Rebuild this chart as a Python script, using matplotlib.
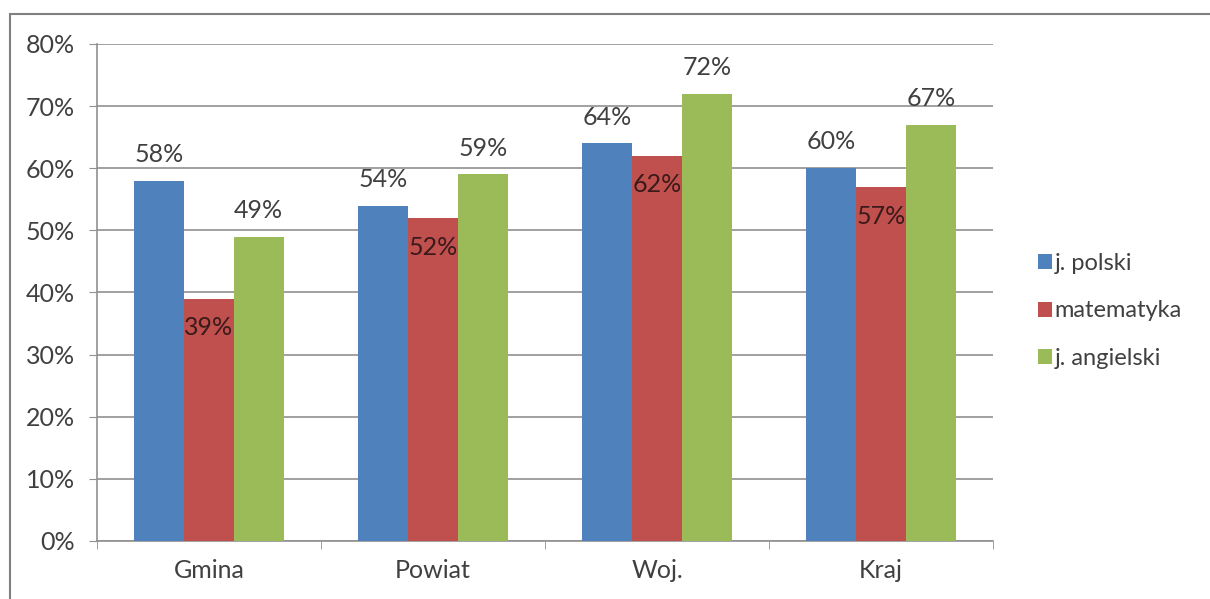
import matplotlib
matplotlib.use("Agg")
import matplotlib.pyplot as plt
import numpy as np
from matplotlib.patches import Rectangle

categories = ["Gmina", "Powiat", "Woj.", "Kraj"]
series_names = ["j. polski", "matematyka", "j. angielski"]
polski = [58, 54, 64, 60]
matematyka = [39, 52, 62, 57]
angielski = [49, 59, 72, 67]
yticks = [0, 10, 20, 30, 40, 50, 60, 70, 80]

colors = ["#4F81BD", "#C0504D", "#9BBB59"]
plt.rcParams['font.family'] = ['Lato', 'DejaVu Sans']
txt = "#404040"
fs = 18

W, H = 1210, 599
fig = plt.figure(figsize=(W / 100, H / 100), dpi=100)
ax = fig.add_axes([97 / W, 1 - 541 / H, (993 - 97) / W, (541 - 44) / H])

fig.patches.append(Rectangle((10 / W, -0.1), 1.2, 1 - 14 / H + 0.1, transform=fig.transFigure,
                             fill=False, edgecolor="#808080", linewidth=1.5, zorder=0))

x = np.arange(len(categories))
w = 1 / 4.5
data = [polski, matematyka, angielski]
for i, (vals, c, name) in enumerate(zip(data, colors, series_names)):
    pos = x + (i - 1) * w
    ax.bar(pos, vals, width=w, color=c, label=name, zorder=3)
    for p, v in zip(pos, vals):
        if i == 1:
            ax.annotate(f"{v}%", (p, v), xytext=(0, -21), textcoords="offset points",
                        ha="center", va="center", fontsize=fs, color="#3a1a1a", zorder=4)
        else:
            ax.annotate(f"{v}%", (p, v), xytext=(0, 19), textcoords="offset points",
                        ha="center", va="center", fontsize=fs, color=txt, zorder=4)

ax.set_xlim(-0.5, len(categories) - 0.5)
ax.set_ylim(0, 80)
ax.set_yticks(yticks)
ax.set_yticklabels([f"{t}%" for t in yticks], fontsize=fs, color=txt)
ax.set_xticks(x)
ax.set_xticklabels(categories, fontsize=fs, color=txt)
ax.tick_params(axis="x", length=0, pad=13)
ax.set_xticks(np.arange(-0.5, len(categories)), minor=True)
ax.tick_params(axis="x", which="minor", length=6, color="#909090", direction="out")
ax.tick_params(axis="y", length=6, color="#909090", pad=10)
ax.yaxis.grid(True, color="#909090", linewidth=1.2, zorder=0)
for s in ["top", "right"]:
    ax.spines[s].set_visible(False)
ax.spines["left"].set_color("#909090")
ax.spines["bottom"].set_color("#909090")
ax.spines["left"].set_linewidth(1.2)
ax.spines["bottom"].set_linewidth(1.2)

leg = fig.legend(loc="upper left", bbox_to_anchor=(1038 / W, 1 - 253 / H), frameon=False,
                 fontsize=17, handlelength=0.6, handleheight=0.6, handletextpad=0.1,
                 labelspacing=1.12, labelcolor=txt, borderaxespad=0, borderpad=0)

fig.savefig("out.png", dpi=100)
